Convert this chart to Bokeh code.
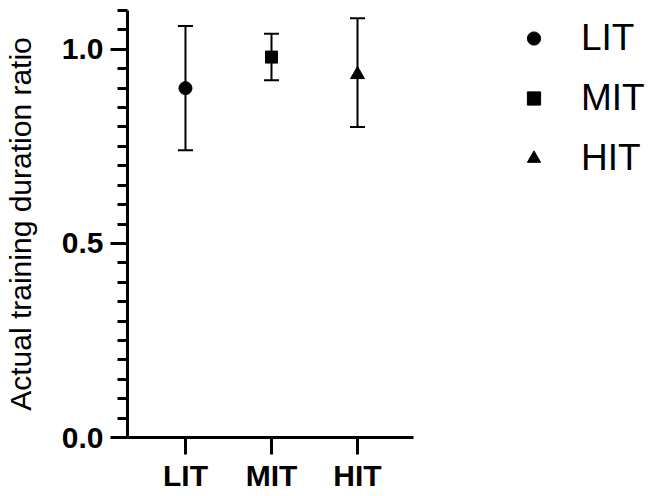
from bokeh.plotting import figure
from bokeh.models import (Range1d, FixedTicker, SingleIntervalTicker, PrintfTickFormatter,
                          Whisker, TeeHead, ColumnDataSource, Legend, LegendItem)
from bokeh.embed import file_html
from bokeh.resources import INLINE

groups = ["LIT", "MIT", "HIT"]
means = [0.90, 0.98, 0.935]
upper = [1.06, 1.04, 1.08]
lower = [0.74, 0.92, 0.80]
markers = ["circle", "square", "triangle"]
marker_sizes = [13, 12, 14]

xpos = [i + 1 for i in range(len(groups))]

p = figure(frame_width=286, frame_height=427, output_backend="svg", toolbar_location=None,
           x_range=Range1d(0.326, 3.651), y_range=Range1d(0, 1.1),
           min_border_left=122, min_border_top=10, min_border_right=0,
           min_border_bottom=20)
p.outline_line_color = None
p.xgrid.visible = False
p.ygrid.visible = False
p.background_fill_color = "white"
p.border_fill_color = "white"

FONT = "Liberation Sans"

# y axis
yax = p.yaxis[0]
yax.ticker = SingleIntervalTicker(interval=0.5, num_minor_ticks=10)
yax.formatter = PrintfTickFormatter(format="%.1f")
yax.axis_line_width = 3
yax.major_tick_line_width = 3
yax.minor_tick_line_width = 3
yax.major_tick_out = 17
yax.major_tick_in = 0
yax.minor_tick_out = 10
yax.minor_tick_in = 0
yax.major_label_text_font = FONT
yax.major_label_text_font_style = "bold"
yax.major_label_text_font_size = "30px"
yax.major_label_text_color = "black"
yax.major_label_standoff = 7
yax.axis_label = "Actual training duration ratio"
yax.axis_label_text_font = FONT
yax.axis_label_text_font_style = "normal"
yax.axis_label_text_font_size = "30px"
yax.axis_label_text_color = "black"
yax.axis_label_standoff = 22

# x axis
xax = p.xaxis[0]
xax.ticker = FixedTicker(ticks=xpos)
xax.major_label_overrides = {x: g for x, g in zip(xpos, groups)}
xax.axis_line_width = 3
xax.major_tick_line_width = 3
xax.minor_tick_line_color = None
xax.major_tick_out = 17
xax.major_tick_in = 0
xax.major_label_text_font = FONT
xax.major_label_text_font_style = "bold"
xax.major_label_text_font_size = "30px"
xax.major_label_text_color = "black"
xax.major_label_standoff = 4

src = ColumnDataSource(dict(x=xpos, mean=means, upper=upper, lower=lower))
whisker = Whisker(base="x", upper="upper", lower="lower", source=src,
                  line_width=2, line_color="black",
                  upper_head=TeeHead(size=15, line_width=2, line_color="black"),
                  lower_head=TeeHead(size=15, line_width=2, line_color="black"))
p.add_layout(whisker)

items = []
for i, g in enumerate(groups):
    r = p.scatter(x=[xpos[i]], y=[means[i]], marker=markers[i], size=marker_sizes[i],
                  fill_color="black", line_color="black")
    items.append(LegendItem(label=g, renderers=[r]))

legend = Legend(items=items, location=(104, 254), orientation="vertical",
                background_fill_alpha=0, border_line_color=None,
                padding=0, margin=0, spacing=10,
                glyph_width=33, glyph_height=50, label_height=50,
                label_standoff=31,
                label_text_font=FONT, label_text_font_size="37px",
                label_text_color="black")
p.add_layout(legend, "right")

open("out.html", "w").write(file_html(p, INLINE))
